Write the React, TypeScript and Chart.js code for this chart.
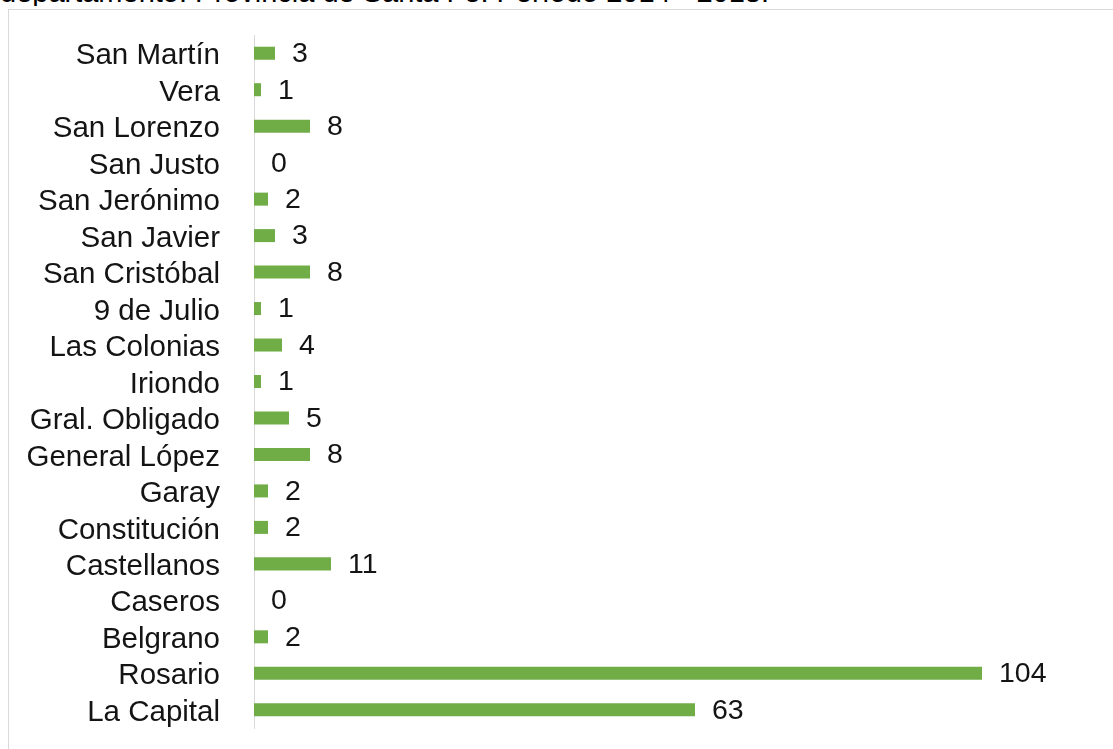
import React, { useEffect, useRef } from "react";
import { Chart, registerables } from "chart.js";

Chart.register(...registerables);

const TITLE = "departamento. Provincia de Santa Fe. Período 2014 - 2018.";

const categories = [
  "San Martín",
  "Vera",
  "San Lorenzo",
  "San Justo",
  "San Jerónimo",
  "San Javier",
  "San Cristóbal",
  "9 de Julio",
  "Las Colonias",
  "Iriondo",
  "Gral. Obligado",
  "General López",
  "Garay",
  "Constitución",
  "Castellanos",
  "Caseros",
  "Belgrano",
  "Rosario",
  "La Capital",
];

const values = [3, 1, 8, 0, 2, 3, 8, 1, 4, 1, 5, 8, 2, 2, 11, 0, 2, 104, 63];

const FONT = '"Liberation Sans", Arial, Helvetica, sans-serif';
const TEXT_COLOR = "#141414";
const BAR_COLOR = "#70AD47";

const valueLabels = {
  id: "valueLabels",
  afterDatasetsDraw(chart: any) {
    const ctx = chart.ctx;
    const meta = chart.getDatasetMeta(0);
    ctx.save();
    ctx.font = `28.5px ${FONT}`;
    ctx.fillStyle = TEXT_COLOR;
    ctx.textAlign = "left";
    ctx.textBaseline = "middle";
    meta.data.forEach((bar: any, i: number) => {
      ctx.fillText(String(values[i]), bar.x + 17, bar.y + 1);
    });
    ctx.restore();
  },
};

export default function App() {
  const ref = useRef<HTMLCanvasElement | null>(null);

  useEffect(() => {
    if (!ref.current) return;
    const chart = new Chart(ref.current, {
      type: "bar",
      data: {
        labels: categories,
        datasets: [
          {
            data: values,
            backgroundColor: BAR_COLOR,
            borderWidth: 0,
            categoryPercentage: 1,
            barPercentage: 0.357,
          },
        ],
      },
      options: {
        indexAxis: "y",
        responsive: false,
        animation: false,
        layout: { padding: { top: 35, bottom: 21, left: 0, right: 19 } },
        plugins: {
          legend: { display: false },
          title: { display: false },
          tooltip: { enabled: false },
        },
        scales: {
          x: {
            display: false,
            min: 0,
            max: 120,
          },
          y: {
            afterFit: (scale: any) => {
              scale.width = 254;
              scale.paddingTop = 0;
              scale.paddingBottom = 0;
            },
            grid: { display: false, drawTicks: false },
            border: { display: true, color: "#d9d9d9", width: 1 },
            ticks: {
              padding: 34,
              labelOffset: 3,
              color: TEXT_COLOR,
              font: { family: FONT, size: 29.5 },
              autoSkip: false,
            },
          },
        },
      },
      plugins: [valueLabels],
    });
    return () => chart.destroy();
  }, []);

  return (
    <div
      style={{
        position: "fixed",
        left: 0,
        top: 0,
        width: 1113,
        height: 749,
        overflow: "hidden",
        background: "#fff",
      }}
    >
      <div
        style={{
          position: "absolute",
          left: 0,
          top: 0,
          width: 1113,
          height: 6,
          overflow: "hidden",
        }}
      >
        <div
          style={{
            position: "absolute",
            left: 0,
            top: -22.5,
            fontFamily: FONT,
            fontSize: 29,
            lineHeight: "29px",
            color: "#000",
            whiteSpace: "nowrap",
          }}
        >
          {TITLE}
        </div>
      </div>
      <div
        style={{
          position: "absolute",
          left: 8,
          top: 9,
          width: 1200,
          height: 800,
          border: "1px solid #d9d9d9",
          boxSizing: "border-box",
        }}
      />
      <canvas
        ref={ref}
        width={1113}
        height={749}
        style={{ position: "absolute", left: 0, top: 0 }}
      />
    </div>
  );
}
